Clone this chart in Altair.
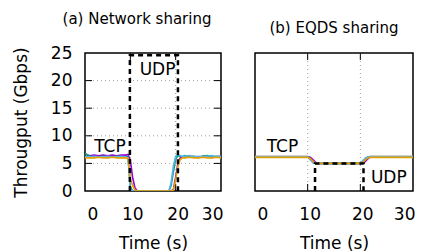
import altair as alt
import pandas as pd

FONT = "DejaVu Sans"

# ---------------- Panel (a): Network sharing ----------------
ta = [0, 1, 2, 3, 4, 5, 6, 7, 8, 9, 9.5, 10, 10.5, 11, 11.5, 12, 13, 14, 15, 16, 17, 18,
      18.5, 19, 19.5, 20, 20.5, 21, 21.5, 22, 23, 24, 25, 26, 27, 28, 29, 30]
a_purple = [6.7, 6.4, 6.5, 6.4, 6.5, 6.4, 6.5, 6.4, 6.5, 6.5, 6.6, 5.5, 2.5, 0.6, 0, 0, 0, 0, 0, 0, 0, 0,
            0, 0, 0.3, 2.5, 5.0, 6.0, 6.2, 6.1, 6.3, 6.2, 6.1, 6.3, 6.2, 6.1, 6.2, 6.3]
a_green = [6.8, 6.3, 6.1, 6.2, 6.3, 6.1, 6.2, 6.3, 6.1, 6.2, 6.2, 0.8, 0, 0, 0, 0, 0, 0, 0, 0, 0, 0,
           0, 1.0, 3.5, 5.8, 6.4, 6.3, 6.2, 6.4, 6.2, 6.3, 6.1, 6.3, 6.4, 6.2, 6.3, 6.2]
a_cyan = [6.2, 6.2, 6.3, 6.2, 6.2, 6.3, 6.2, 6.2, 6.3, 6.2, 5.8, 0.3, 0, 0, 0, 0, 0, 0, 0, 0, 0, 0,
          0, 1.5, 4.5, 6.3, 6.6, 6.4, 6.3, 6.3, 6.4, 6.2, 6.3, 6.2, 6.3, 6.4, 6.2, 6.3]
a_orange = [6.0, 6.0, 6.0, 6.1, 6.0, 6.0, 6.1, 6.0, 6.0, 6.0, 5.9, 2.2, 1.0, 0.2, 0, 0, 0, 0, 0, 0, 0, 0,
            0, 0, 0.2, 2.0, 4.5, 5.7, 6.0, 6.0, 6.1, 6.0, 6.0, 6.1, 6.0, 6.0, 6.1, 6.0]
udp_a_t = [9.9, 9.9, 20.5, 20.5]
udp_a_v = [0, 24.6, 24.6, 0]
lab_a_text = ["TCP", "UDP"]
lab_a_t = [5.5, 16.0]
lab_a_v = [8.0, 21.9]

# ---------------- Panel (b): EQDS sharing ----------------
tb = [0, 1, 2, 3, 4, 5, 6, 7, 8, 9, 10, 10.5, 11, 11.5, 12, 13, 14, 15, 16, 17, 18, 19,
      20, 20.5, 21, 21.5, 22, 23, 24, 25, 26, 27, 28, 29, 30]
b_gray = [6.3, 6.3, 6.3, 6.3, 6.3, 6.3, 6.3, 6.3, 6.3, 6.3, 6.3, 6.0, 5.4, 5.0, 5.0, 5.0, 5.0, 5.0, 5.0, 5.0, 5.0, 5.0,
          5.0, 5.3, 5.9, 6.2, 6.3, 6.3, 6.3, 6.3, 6.3, 6.3, 6.3, 6.3, 6.3]
b_purple = [6.2, 6.2, 6.2, 6.2, 6.2, 6.2, 6.2, 6.2, 6.2, 6.2, 6.2, 6.1, 5.7, 5.2, 5.0, 5.0, 5.0, 5.0, 5.0, 5.0, 5.0, 5.0,
            5.0, 5.0, 5.4, 5.9, 6.2, 6.2, 6.2, 6.2, 6.2, 6.2, 6.2, 6.2, 6.2]
b_green = [6.2, 6.2, 6.2, 6.2, 6.2, 6.2, 6.2, 6.2, 6.2, 6.2, 6.2, 5.8, 5.2, 5.0, 5.0, 5.0, 5.0, 5.0, 5.0, 5.0, 5.0, 5.0,
           5.0, 5.3, 5.8, 6.1, 6.2, 6.2, 6.2, 6.2, 6.2, 6.2, 6.2, 6.2, 6.2]
b_cyan = [6.2, 6.2, 6.2, 6.2, 6.2, 6.2, 6.2, 6.2, 6.2, 6.2, 6.2, 5.6, 5.1, 5.0, 5.0, 5.0, 5.0, 5.0, 5.0, 5.0, 5.0, 5.0,
          5.0, 5.5, 6.0, 6.2, 6.2, 6.2, 6.2, 6.2, 6.2, 6.2, 6.2, 6.2, 6.2]
b_orange = [6.1, 6.1, 6.1, 6.1, 6.1, 6.1, 6.1, 6.1, 6.1, 6.1, 6.1, 5.9, 5.4, 5.0, 5.0, 5.0, 5.0, 5.0, 5.0, 5.0, 5.0, 5.0,
            5.0, 5.2, 5.7, 6.0, 6.1, 6.1, 6.1, 6.1, 6.1, 6.1, 6.1, 6.1, 6.1]
udp_b_t = [11.4, 11.4, 20.6, 20.6]
udp_b_v = [0, 5.0, 5.0, 0]
lab_b_text = ["TCP", "UDP"]
lab_b_t = [5.2, 25.4]
lab_b_v = [8.0, 2.3]

x_ticks = [0, 10, 20, 30]
y_ticks = [0, 5, 10, 15, 20, 25]
grid_y = [5, 10, 15, 20]
grid_x = [10, 20]

PURPLE, GREEN, CYAN, ORANGE, GRAY = "#9400d3", "#009e73", "#56b4e9", "#e69f00", "#a0a0a0"
H = 138
TICK = 7


def panel(t, series, udp_t, udp_v, lab_t, lab_v, lab_text, width, show_y, title, dx):
    xax = alt.Axis(values=x_ticks, labelFontSize=17, labelPadding=15, labelOffset=2, ticks=False,
                   domain=False, grid=False, title="Time (s)", titleFontSize=17, titleFontWeight="normal",
                   titlePadding=13, labelColor="black", titleColor="black", labelFont=FONT, titleFont=FONT)
    if show_y:
        yax = alt.Axis(values=y_ticks, labelFontSize=17, labelPadding=13, ticks=False, domain=False,
                       grid=False, title="Througput (Gbps)", titleFontSize=17, titleFontWeight="normal",
                       titlePadding=20, labelColor="black", titleColor="black", labelFont=FONT, titleFont=FONT)
    else:
        yax = None
    X = alt.X("t:Q", scale=alt.Scale(domain=[0, 30], nice=False, zero=False), axis=xax)
    Y = alt.Y("v:Q", scale=alt.Scale(domain=[0, 25], nice=False), axis=yax)

    layers = []
    # grid lines
    gx = pd.DataFrame({"t": grid_x})
    layers.append(alt.Chart(gx).mark_rule(color=GRAY, strokeWidth=1, strokeDash=[1, 3])
                  .encode(x=X, y=alt.value(0), y2=alt.value(H)))
    # inner tick marks (x)
    layers.append(alt.Chart(gx).mark_rule(color="black", strokeWidth=1)
                  .encode(x=X, y=alt.value(H), y2=alt.value(H - TICK)))
    layers.append(alt.Chart(gx).mark_rule(color="black", strokeWidth=1)
                  .encode(x=X, y=alt.value(0), y2=alt.value(TICK)))
    if show_y:
        gy = pd.DataFrame({"v": grid_y})
        layers.append(alt.Chart(gy).mark_rule(color=GRAY, strokeWidth=1, strokeDash=[1, 3])
                      .encode(y=Y, x=alt.value(0), x2=alt.value(width)))
        layers.append(alt.Chart(gy).mark_rule(color="black", strokeWidth=1)
                      .encode(y=Y, x=alt.value(0), x2=alt.value(TICK)))
        layers.append(alt.Chart(gy).mark_rule(color="black", strokeWidth=1)
                      .encode(y=Y, x=alt.value(width - TICK), x2=alt.value(width)))
    # TCP series
    for vals, col in series:
        df = pd.DataFrame({"t": t, "v": vals})
        layers.append(alt.Chart(df).mark_line(color=col, strokeWidth=1.6, clip=True)
                      .encode(x=X, y=Y))
    # UDP
    udf = pd.DataFrame({"t": udp_t, "v": udp_v, "o": list(range(len(udp_t)))})
    layers.append(alt.Chart(udf).mark_line(color="black", strokeWidth=2.5, strokeDash=[5, 4], clip=True)
                  .encode(x=X, y=Y, order="o:Q"))
    # labels
    ldf = pd.DataFrame({"t": lab_t, "v": lab_v, "txt": lab_text})
    layers.append(alt.Chart(ldf).mark_text(fontSize=17, font=FONT, color="black", baseline="middle",
                                           align="center")
                  .encode(x=X, y=Y, text="txt:N"))
    return alt.layer(*layers).properties(
        width=width, height=H,
        title=alt.TitleParams(title, fontSize=15, fontWeight="normal", font=FONT, color="black",
                              offset=17, dx=dx, anchor="middle"))


left = panel(ta, [(a_purple, PURPLE), (a_green, GREEN), (a_cyan, CYAN), (a_orange, ORANGE)],
             udp_a_t, udp_a_v, lab_a_t, lab_a_v, lab_a_text, 136, True, "(a) Network sharing", -16)
right = panel(tb, [(b_gray, GRAY), (b_purple, PURPLE), (b_green, GREEN), (b_cyan, CYAN), (b_orange, ORANGE)],
              udp_b_t, udp_b_v, lab_b_t, lab_b_v, lab_b_text, 158, False, "(b) EQDS sharing", 0)

chart = alt.hconcat(left, right, spacing=34, bounds="flush").configure_view(
    stroke="black", strokeWidth=1.5).properties(padding={"left": 3, "top": 3, "right": 2, "bottom": 2})

chart.save("out.html", embed_options={"renderer": "svg", "actions": False})
